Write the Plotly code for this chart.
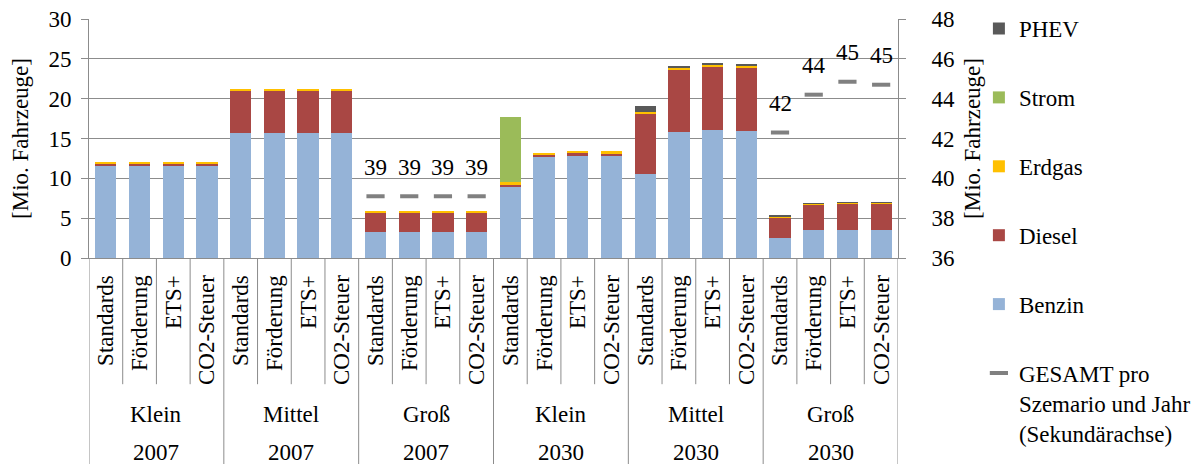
import plotly.graph_objects as go

# Scenario / size / year hierarchy along the category axis
scenarios = ["Standards", "Förderung", "ETS+", "CO2-Steuer"]
groups = [("Klein", "2007"), ("Mittel", "2007"), ("Groß", "2007"),
          ("Klein", "2030"), ("Mittel", "2030"), ("Groß", "2030")]

# Fleet by fuel type [Mio. Fahrzeuge]
benzin = [11.6, 11.6, 11.6, 11.6,
          15.75, 15.75, 15.75, 15.75,
          3.22, 3.22, 3.22, 3.22,
          8.9, 12.62, 12.83, 12.75,
          10.49, 15.84, 16.05, 15.96,
          2.47, 3.47, 3.55, 3.51]
diesel = [0.25, 0.25, 0.25, 0.25,
          5.25, 5.25, 5.25, 5.25,
          2.55, 2.55, 2.55, 2.55,
          0.33, 0.33, 0.37, 0.37,
          7.69, 7.81, 7.98, 7.98,
          2.67, 3.3, 3.35, 3.39]
erdgas = [0.15, 0.15, 0.15, 0.15,
          0.2, 0.2, 0.2, 0.2,
          0.03, 0.03, 0.03, 0.03,
          0.25, 0.25, 0.26, 0.25,
          0.2, 0.25, 0.21, 0.17,
          0.03, 0.03, 0.03, 0.03]
strom = [0, 0, 0, 0,
         0, 0, 0, 0,
         0, 0, 0, 0,
         8.27, 0, 0, 0,
         0, 0, 0, 0,
         0, 0, 0, 0]
phev = [0, 0, 0, 0,
        0, 0, 0, 0,
        0, 0, 0, 0,
        0, 0, 0, 0,
        0.65, 0.17, 0.21, 0.25,
        0.14, 0.08, 0.08, 0.08]
# Total per scenario and year (secondary axis), shown for the "Groß" groups
gesamt = [None, None, None, None,
          None, None, None, None,
          39.1, 39.1, 39.1, 39.1,
          None, None, None, None,
          None, None, None, None,
          42.3, 44.2, 44.85, 44.7]

n = len(scenarios) * len(groups)
x = list(range(n))
ticktext = scenarios * len(groups)

FONT = "Liberation Serif"
GRID = "#8c8c8c"
FS = 23

fig = go.Figure()

series = [
    ("Benzin", benzin, "#95B3D7", 5),
    ("Diesel", diesel, "#A94744", 4),
    ("Erdgas", erdgas, "#FFC000", 3),
    ("Strom", strom, "#9BBB59", 2),
    ("PHEV", phev, "#595959", 1),
]
for name, vals, color, rank in series:
    fig.add_trace(go.Bar(
        x=x, y=vals, name=name, marker=dict(color=color, line=dict(width=0)),
        legendgroup=name, legendrank=rank,
    ))

fig.add_trace(go.Scatter(
    x=x, y=gesamt, yaxis="y2", mode="markers",
    name="GESAMT pro<br>Szemario und Jahr<br>(Sekundärachse)",
    marker=dict(symbol="line-ew", size=13, color="#808080",
                line=dict(color="#808080", width=4)),
    legendgroup="gesamt", legendrank=6,
))

# Value labels above the total markers
for xi, v in zip(x, gesamt):
    if v is not None:
        fig.add_annotation(x=xi, y=v, yref="y2", text=f"{v:.0f}",
                           showarrow=False, yshift=29, yanchor="middle",
                           font=dict(family=FONT, size=FS, color="#000"))

# Hierarchical category labels: size and year rows
per = len(scenarios)
for gi, (size, year) in enumerate(groups):
    cx = gi * per + (per - 1) / 2
    fig.add_annotation(x=cx, y=-0.654, yref="paper", yanchor="middle",
                       text=size, showarrow=False,
                       font=dict(family=FONT, size=FS, color="#000"))
    fig.add_annotation(x=cx, y=-0.812, yref="paper", yanchor="middle",
                       text=year, showarrow=False,
                       font=dict(family=FONT, size=FS, color="#000"))

# Separator lines of the category axis
for k in range(n + 1):
    y1 = -1.0 if k % per == 0 else -0.528
    fig.add_shape(type="line", xref="x", yref="paper", x0=k - 0.5, x1=k - 0.5,
                  y0=0, y1=y1, line=dict(color=GRID, width=1))

fig.update_layout(
    width=1203, height=464,
    margin=dict(l=89, r=305, t=19, b=206, autoexpand=False),
    paper_bgcolor="white", plot_bgcolor="white",
    barmode="stack", bargap=0.37,
    font=dict(family=FONT, size=FS, color="#000"),
    showlegend=True,
    legend=dict(x=1.1, xanchor="left", y=1.05, yanchor="top",
                traceorder="grouped", tracegroupgap=36, valign="top",
                maxheight=462,
                font=dict(family=FONT, size=FS, color="#000"),
                bgcolor="rgba(0,0,0,0)"),
    xaxis=dict(range=[-0.5, n - 0.5], tickmode="array", tickvals=x,
               ticktext=ticktext, tickangle=-90, ticks="", showgrid=False,
               showline=True, linecolor=GRID, linewidth=1, zeroline=False,
               ticklabelstandoff=7, automargin=False,
               tickfont=dict(family=FONT, size=FS)),
    yaxis=dict(range=[0, 30], dtick=5, showgrid=True, gridcolor=GRID,
               gridwidth=1, zeroline=False, showline=True, linecolor=GRID,
               ticks="outside", ticklen=7, tickcolor=GRID,
               ticklabelstandoff=5, automargin=False,
               title=dict(text="[Mio. Fahrzeuge]", standoff=13,
                          font=dict(family=FONT, size=FS)),
               tickfont=dict(family=FONT, size=FS)),
    yaxis2=dict(range=[36, 48], dtick=2, overlaying="y", side="right",
                showgrid=False, zeroline=False, showline=True, linecolor=GRID,
                ticks="outside", ticklen=7, tickcolor=GRID,
                ticklabelstandoff=21, automargin=False,
                title=dict(text="[Mio. Fahrzeuge]", standoff=9,
                           font=dict(family=FONT, size=FS)),
                tickfont=dict(family=FONT, size=FS)),
)

fig.write_html("out.html")
